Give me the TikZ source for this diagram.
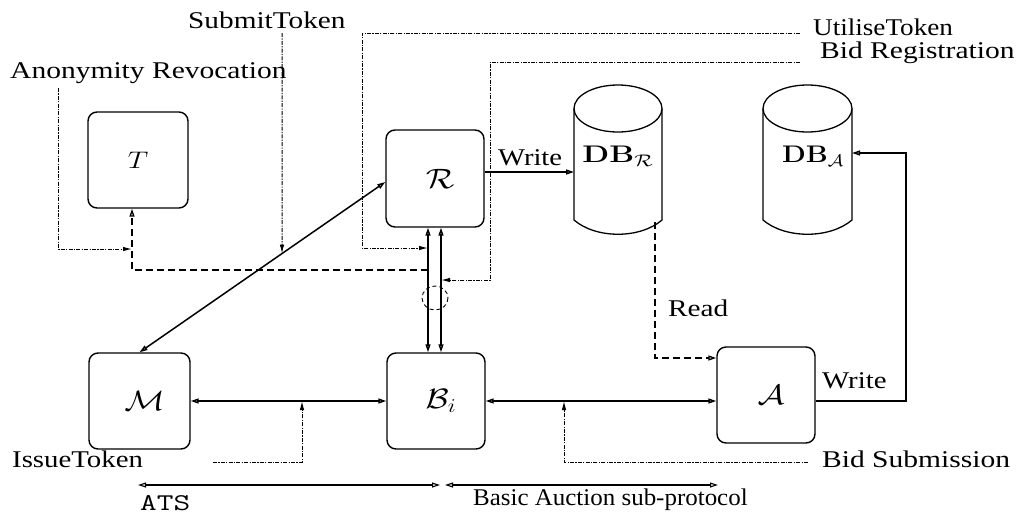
\RequirePackage{fix-cm}
\documentclass[tikz,border=0pt]{standalone}
\usepackage[no-math]{fontspec}
\setmainfont{Liberation Serif}
\usetikzlibrary{arrows.meta,calc,intersections}

% label widened horizontally by a factor, height kept
\newcommand\wlab[2]{\scalebox{#1}[1]{#2}}
% calligraphic party symbol, slightly widened and enlarged
\newcommand\callet[1]{\hspace*{10pt}\fontsize{28}{30}\selectfont\scalebox{1.2}[1]{$#1$}}
% database drum: #1 = left x, #2 = width
\newcommand\dbdrum[2]{%
  \draw[line width=1.3pt] (#1+#2/2,108.5) ellipse [x radius=#2/2, y radius=23.5];
  \draw[line width=1.3pt] (#1,108.5) -- (#1,220)
    .. controls (#1+#2*0.25,239) and (#1+#2*0.75,239) .. (#1+#2,220) -- (#1+#2,108.5);}

\begin{document}
\begin{tikzpicture}[x=1pt,y=-1pt,
  font=\fontsize{24}{28}\selectfont,
  party/.style={draw, line width=1.4pt, rounded corners=9pt, inner sep=0pt},
  lab/.style={anchor=base west, inner sep=0pt},
  biarrow/.style={line width=1.5pt,
    {Triangle[open,length=8pt,width=5pt]}-{Triangle[open,length=8pt,width=5pt]}},
  onearrow/.style={-{Triangle[open,length=8pt,width=5pt]}},
  ptr/.style={line width=1pt, dash pattern=on 4pt off 1.3pt on 1.2pt off 1.3pt,
    -{Latex[length=9pt,width=4.5pt]}},
  dsh/.style={line width=1.3pt, dash pattern=on 7pt off 4pt}]

\useasboundingbox (0,0) rectangle (1020,517);

% parties
\node[party, minimum width=100pt, minimum height=96pt] (T) at (138,160) {\scalebox{1.2}[1]{$T$}};
\node[party, minimum width=98pt, minimum height=97pt] (R) at (435,178.5) {\callet{\mathcal{R}}};
\node[party, minimum width=101pt, minimum height=96pt] (M) at (139.5,401) {\callet{\mathcal{M}}};
\node[party, minimum width=98pt, minimum height=96pt] (B) at (436,401) {\callet{\mathcal{B}_i}};
\node[party, minimum width=98pt, minimum height=96pt] (A) at (766,395) {\callet{\mathcal{A}}};

% databases
\dbdrum{574}{88}
\dbdrum{763}{89}
\node[inner sep=0pt] (DBR) at (618,156) {\scalebox{1.3}[1]{$\mathbf{DB}_{\mathcal R}$}};
\node[inner sep=0pt] (DBA) at (813,156) {\scalebox{1.15}[1]{$\mathbf{DB}_{\mathcal A}$}};
\coordinate (DBRw) at (574,172);
\coordinate (DBRs) at (655,222);
\coordinate (DBAe) at (852,153);
\coordinate (wturn) at (906,153);

% protocol messages
\draw[biarrow] (M.east) -- (B.west);
\draw[biarrow] (B.east) -- (B.east -| A.west);
\draw[biarrow, name path=diag] ([yshift=-3.5pt]R.west) -- (M.north);
\draw[biarrow] ([xshift=-7pt]R.south) -- ([xshift=-7pt]R.south |- B.north);
\draw[biarrow] ([xshift=6pt]R.south) -- ([xshift=6pt]R.south |- B.north);

% database access
\draw[line width=1.5pt, onearrow] ([yshift=6.5pt]R.east) -- (DBRw);
\node[lab] (wr1) at (498,165) {\wlab{1.19}{Write}};
\draw[dsh, onearrow] (DBRs) |- ([yshift=37pt]A.west);
\node[lab] (rd) at (668,316) {\wlab{1.22}{Read}};
\draw[line width=1.5pt, onearrow] ([yshift=-6pt]A.east) -| (wturn) -- (DBAe);
\node[lab] (wr2) at (822,388) {\wlab{1.2}{Write}};

% revocation path to T
\coordinate (Lb) at (428,270);
\draw[dsh, onearrow] (Lb) -| ([xshift=-6pt]T.south);

% phase pointers
\coordinate (ar0) at (58,88);
\coordinate (ar1) at (132,249);
\draw[ptr] (ar0) |- (ar1);

\coordinate (st0) at (282,33);
\path[name path=subv] (282,33) -- (282,400);
\draw[ptr, name intersections={of=diag and subv, by=sx}] (st0) -- (sx);

\coordinate (ut0) at (800,33);
\coordinate (ut1) at (362,248);
\coordinate (ut2) at (428,248);
\draw[ptr] (ut0) -| (ut1) -- (ut2);

\coordinate (br0) at (800,62);
\coordinate (br1) at (490,280);
\coordinate (br2) at (441,280);
\draw[ptr] (br0) -| (br1) -- (br2);

\coordinate (it0) at (213,462);
\coordinate (it1) at (302,401);
\draw[ptr] (it0) -| (it1);

\coordinate (bs0) at (808,462);
\coordinate (bs1) at (564,401);
\draw[ptr] (bs0) -| (bs1);

% channel marker
\draw[line width=0.9pt, dash pattern=on 4pt off 3pt] (435,298) ellipse [x radius=13, y radius=12];

% phase extents
\coordinate (p0) at (138,485);
\coordinate (p1) at (440,485);
\coordinate (p2) at (445,485);
\coordinate (p3) at (718,485);
\draw[biarrow, line width=1.1pt] (p0) -- (p1);
\draw[biarrow, line width=1.1pt] (p2) -- (p3);

% labels
\node[lab] (lsub) at (188,28) {\wlab{1.22}{SubmitToken}};
\node[lab] (lanon) at (10,78) {\wlab{1.23}{Anonymity Revocation}};
\node[lab] (lutil) at (813,35) {\wlab{1.13}{UtiliseToken}};
\node[lab] (lbreg) at (820,58) {\wlab{1.23}{Bid Registration}};
\node[lab] (liss) at (12,467) {\wlab{1.2}{IssueToken}};
\node[lab] (lbsub) at (822,467) {\wlab{1.23}{Bid Submission}};
\node[lab] (lats) at (140,510) {\wlab{1.35}{\texttt{ATS}}};
\node[lab] (lbas) at (473,505) {\wlab{1.04}{Basic Auction sub-protocol}};
\end{tikzpicture}
\end{document}
